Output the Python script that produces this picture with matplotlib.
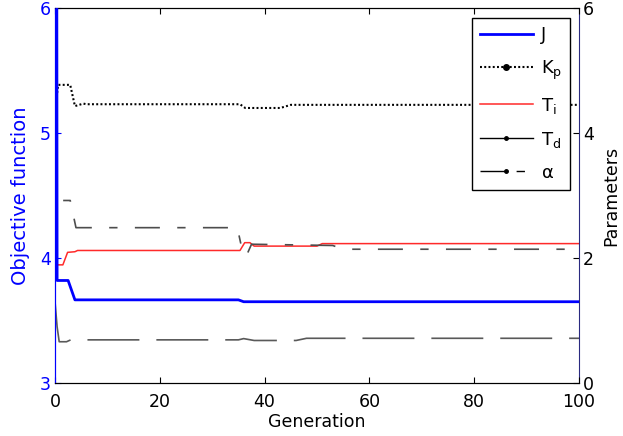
import matplotlib
matplotlib.use('Agg')
import matplotlib.pyplot as plt
from matplotlib.lines import Line2D

plt.rcParams['font.family'] = ['DejaVu Sans']
plt.rcParams['mathtext.default'] = 'regular'
plt.rcParams['lines.scale_dashes'] = False

# Objective function J (left axis), key points
j_gen = [0, 0.4, 2.5, 3.8, 35, 36, 100]
j_val = [20, 3.82, 3.82, 3.665, 3.665, 3.65, 3.65]

# Parameters (right axis)
kp_gen = [0, 0.6, 2.9, 3.8, 5.4, 6, 35.3, 36.3, 43, 45, 100]
kp_val = [4.37, 4.77, 4.77, 4.43, 4.47, 4.46, 4.46, 4.40, 4.40, 4.45, 4.45]

ti_gen = [0, 0.4, 1.5, 2.4, 3.8, 4.3, 35.3, 36.2, 37.2, 38, 50, 51, 100]
ti_val = [8.0, 1.89, 1.89, 2.09, 2.10, 2.12, 2.12, 2.245, 2.245, 2.19, 2.19, 2.23, 2.23]

td_gen = [0, 0.4, 0.8, 2.2, 3, 35, 36, 38, 46, 48, 100]
td_val = [1.3, 0.90, 0.66, 0.66, 0.69, 0.69, 0.71, 0.68, 0.68, 0.715, 0.715]

al_gen = [0, 0.4, 2.9, 4.0, 34.8, 35.4, 36.0, 36.6, 37.5, 53, 55, 100]
al_val = [3.5, 2.92, 2.92, 2.485, 2.485, 2.25, 2.05, 2.05, 2.22, 2.20, 2.14, 2.14]

x_ticks = [0, 20, 40, 60, 80, 100]
left_ticks = [3, 4, 5, 6]
right_ticks = [0, 2, 4, 6]

fig = plt.figure(figsize=(6.23, 4.36), dpi=100)
ax = fig.add_axes([0.0883, 0.1216, 0.8411, 0.8601])
ax2 = ax.twinx()

ax.plot(j_gen, j_val, color='#0000ff', lw=2.0, zorder=5)
ax2.plot(kp_gen, kp_val, color='black', lw=1.5, dashes=(1.4, 1.66))
ax2.plot(ti_gen, ti_val, color='#ff2a2a', lw=1.1)
ax2.plot(td_gen, td_val, color='0.35', lw=1.2, dashes=(37.4, 12.2))
ax2.plot(al_gen, al_val, color='0.3', lw=1.2, dashes=(18, 12.5, 6, 12.5))

# keep J on top of the twin axes
ax.set_zorder(ax2.get_zorder() + 1)
ax.patch.set_visible(False)

ax.set_xlim(0, 100)
ax.set_ylim(3, 6)
ax2.set_ylim(0, 6)
ax.set_xticks(x_ticks)
ax.set_yticks(left_ticks)
ax2.set_yticks(right_ticks)

ax.tick_params(axis='x', direction='in', top=True, length=4, labelsize=12.5, pad=7)
ax.tick_params(axis='y', direction='in', length=4, colors='#0000ff', labelsize=12.5, pad=3)
ax2.tick_params(axis='y', direction='in', length=4, labelsize=12.5, pad=3)

ax.spines['left'].set_color('#0000ff')
ax2.spines['left'].set_color('#0000ff')
ax2.spines['right'].set_color('#2a2a80')
ax.spines['right'].set_visible(False)

ax.set_xlabel('Generation', fontsize=12.5, labelpad=2)
ax.set_ylabel('Objective function', fontsize=14, color='#0000ff', labelpad=7)
ax2.set_ylabel('Parameters', fontsize=12.5, labelpad=6)

# legend drawn the way the original shows it
handles = [
    Line2D([], [], color='#0000ff', lw=2.0),
    Line2D([], [], color='black', lw=1.5, dashes=(1.4, 1.66), marker='o', markersize=4),
    Line2D([], [], color='#ff2a2a', lw=1.1),
    Line2D([], [], color='black', lw=1.0, marker='o', markersize=2.5),
    Line2D([], [], color='black', lw=1.0, dashes=(20, 6, 6, 20), marker='o', markersize=2.5),
]
labels = ['J', '$K_p$', '$T_i$', '$T_d$', r'$\alpha$']
leg = ax.legend(handles, labels, loc='upper right', bbox_to_anchor=(0.983, 0.973),
                borderaxespad=0, fontsize=13, handlelength=2.9, handletextpad=0.45,
                labelspacing=0.78, fancybox=False, framealpha=1, edgecolor='black',
                numpoints=1, borderpad=0.45)
leg.get_frame().set_linewidth(1.0)

fig.savefig('out.png', dpi=100)
